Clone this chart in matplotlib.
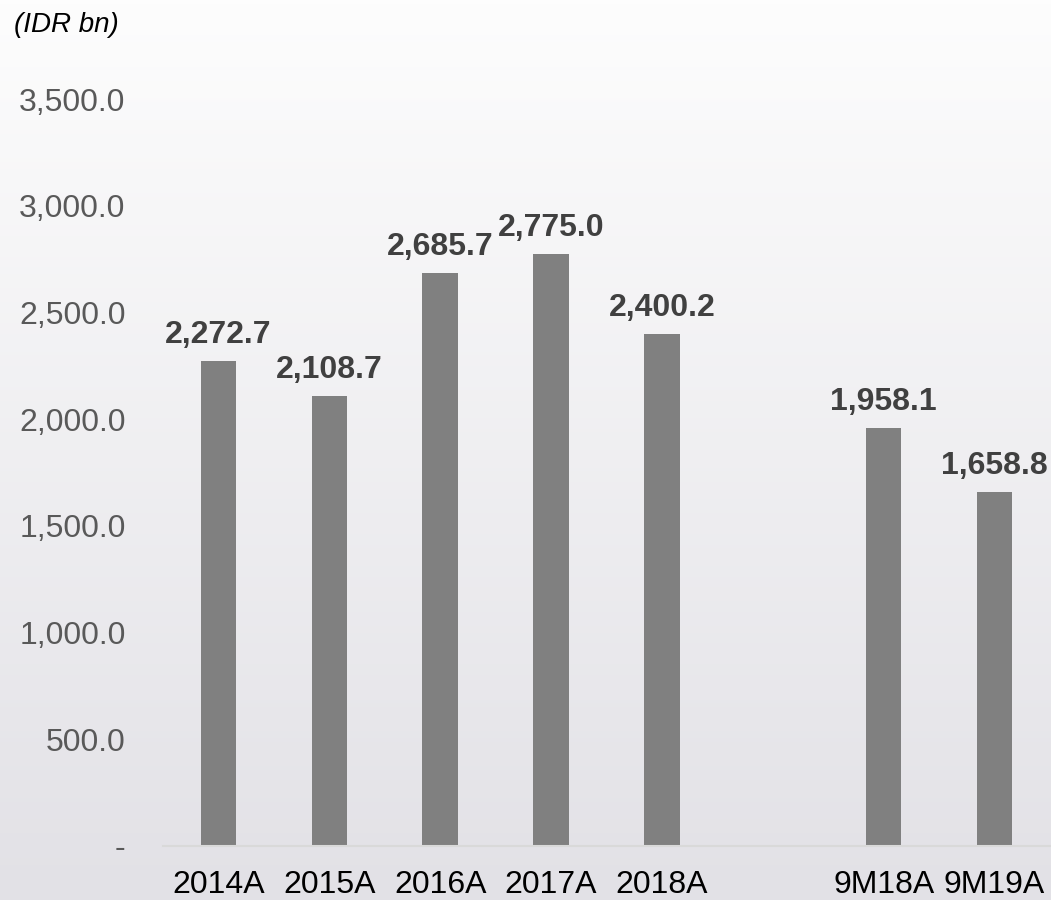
import matplotlib.pyplot as plt
import numpy as np

plt.rcParams['font.family'] = ['Liberation Sans', 'DejaVu Sans']

# Datos del grafico
categorias = ["2014A", "2015A", "2016A", "2017A", "2018A", "", "9M18A", "9M19A"]
valores = [2272.7, 2108.7, 2685.7, 2775.0, 2400.2, np.nan, 1958.1, 1658.8]
etiquetas_y = ["-", "500.0", "1,000.0", "1,500.0", "2,000.0", "2,500.0", "3,000.0", "3,500.0"]
ticks_y = [0, 500, 1000, 1500, 2000, 2500, 3000, 3500]

fig = plt.figure(figsize=(10.51, 9), dpi=100)

# Fondo degradado
bg = fig.add_axes([0, 0, 1, 1], zorder=-10)
arriba = np.array([253, 253, 253]) / 255
abajo = np.array([226, 225, 230]) / 255
t = np.linspace(0, 1, 256)[:, None]
grad = arriba[None, :] * (1 - t) + abajo[None, :] * t
bg.imshow(grad[:, None, :], aspect="auto", extent=[0, 1, 0, 1])
bg.axis("off")

ax = fig.add_axes([163 / 1051, 54 / 900, 887 / 1051, 747 / 900])
ax.patch.set_alpha(0)
x = np.arange(len(categorias))
ax.bar(x, valores, width=0.32, color="#808080")

for xi, v in zip(x, valores):
    if np.isnan(v):
        continue
    ax.text(xi, v + 50, "{:,.1f}".format(v), ha="center", va="bottom",
            fontsize=23, fontweight="bold", color="#404040", clip_on=False)

ax.set_xlim(-0.5, 7.5)
ax.set_ylim(0, 3500)
ax.set_xticks(x)
ax.set_xticklabels(categorias, fontsize=23, color="black")
ax.set_yticks(ticks_y)
ax.set_yticklabels(etiquetas_y, fontsize=23, color="#595959")
ax.tick_params(axis="both", length=0)
ax.tick_params(axis="y", pad=27)
ax.tick_params(axis="x", pad=17)
for s in ["top", "right", "left"]:
    ax.spines[s].set_visible(False)
ax.spines["bottom"].set_color("#d9d9d9")
ax.spines["bottom"].set_linewidth(1.5)

fig.text(14 / 1051, 1 - 25 / 900, "(IDR bn)", fontsize=20, fontstyle="italic",
         color="black", ha="left", va="center")

plt.savefig("out.png", dpi=100)
